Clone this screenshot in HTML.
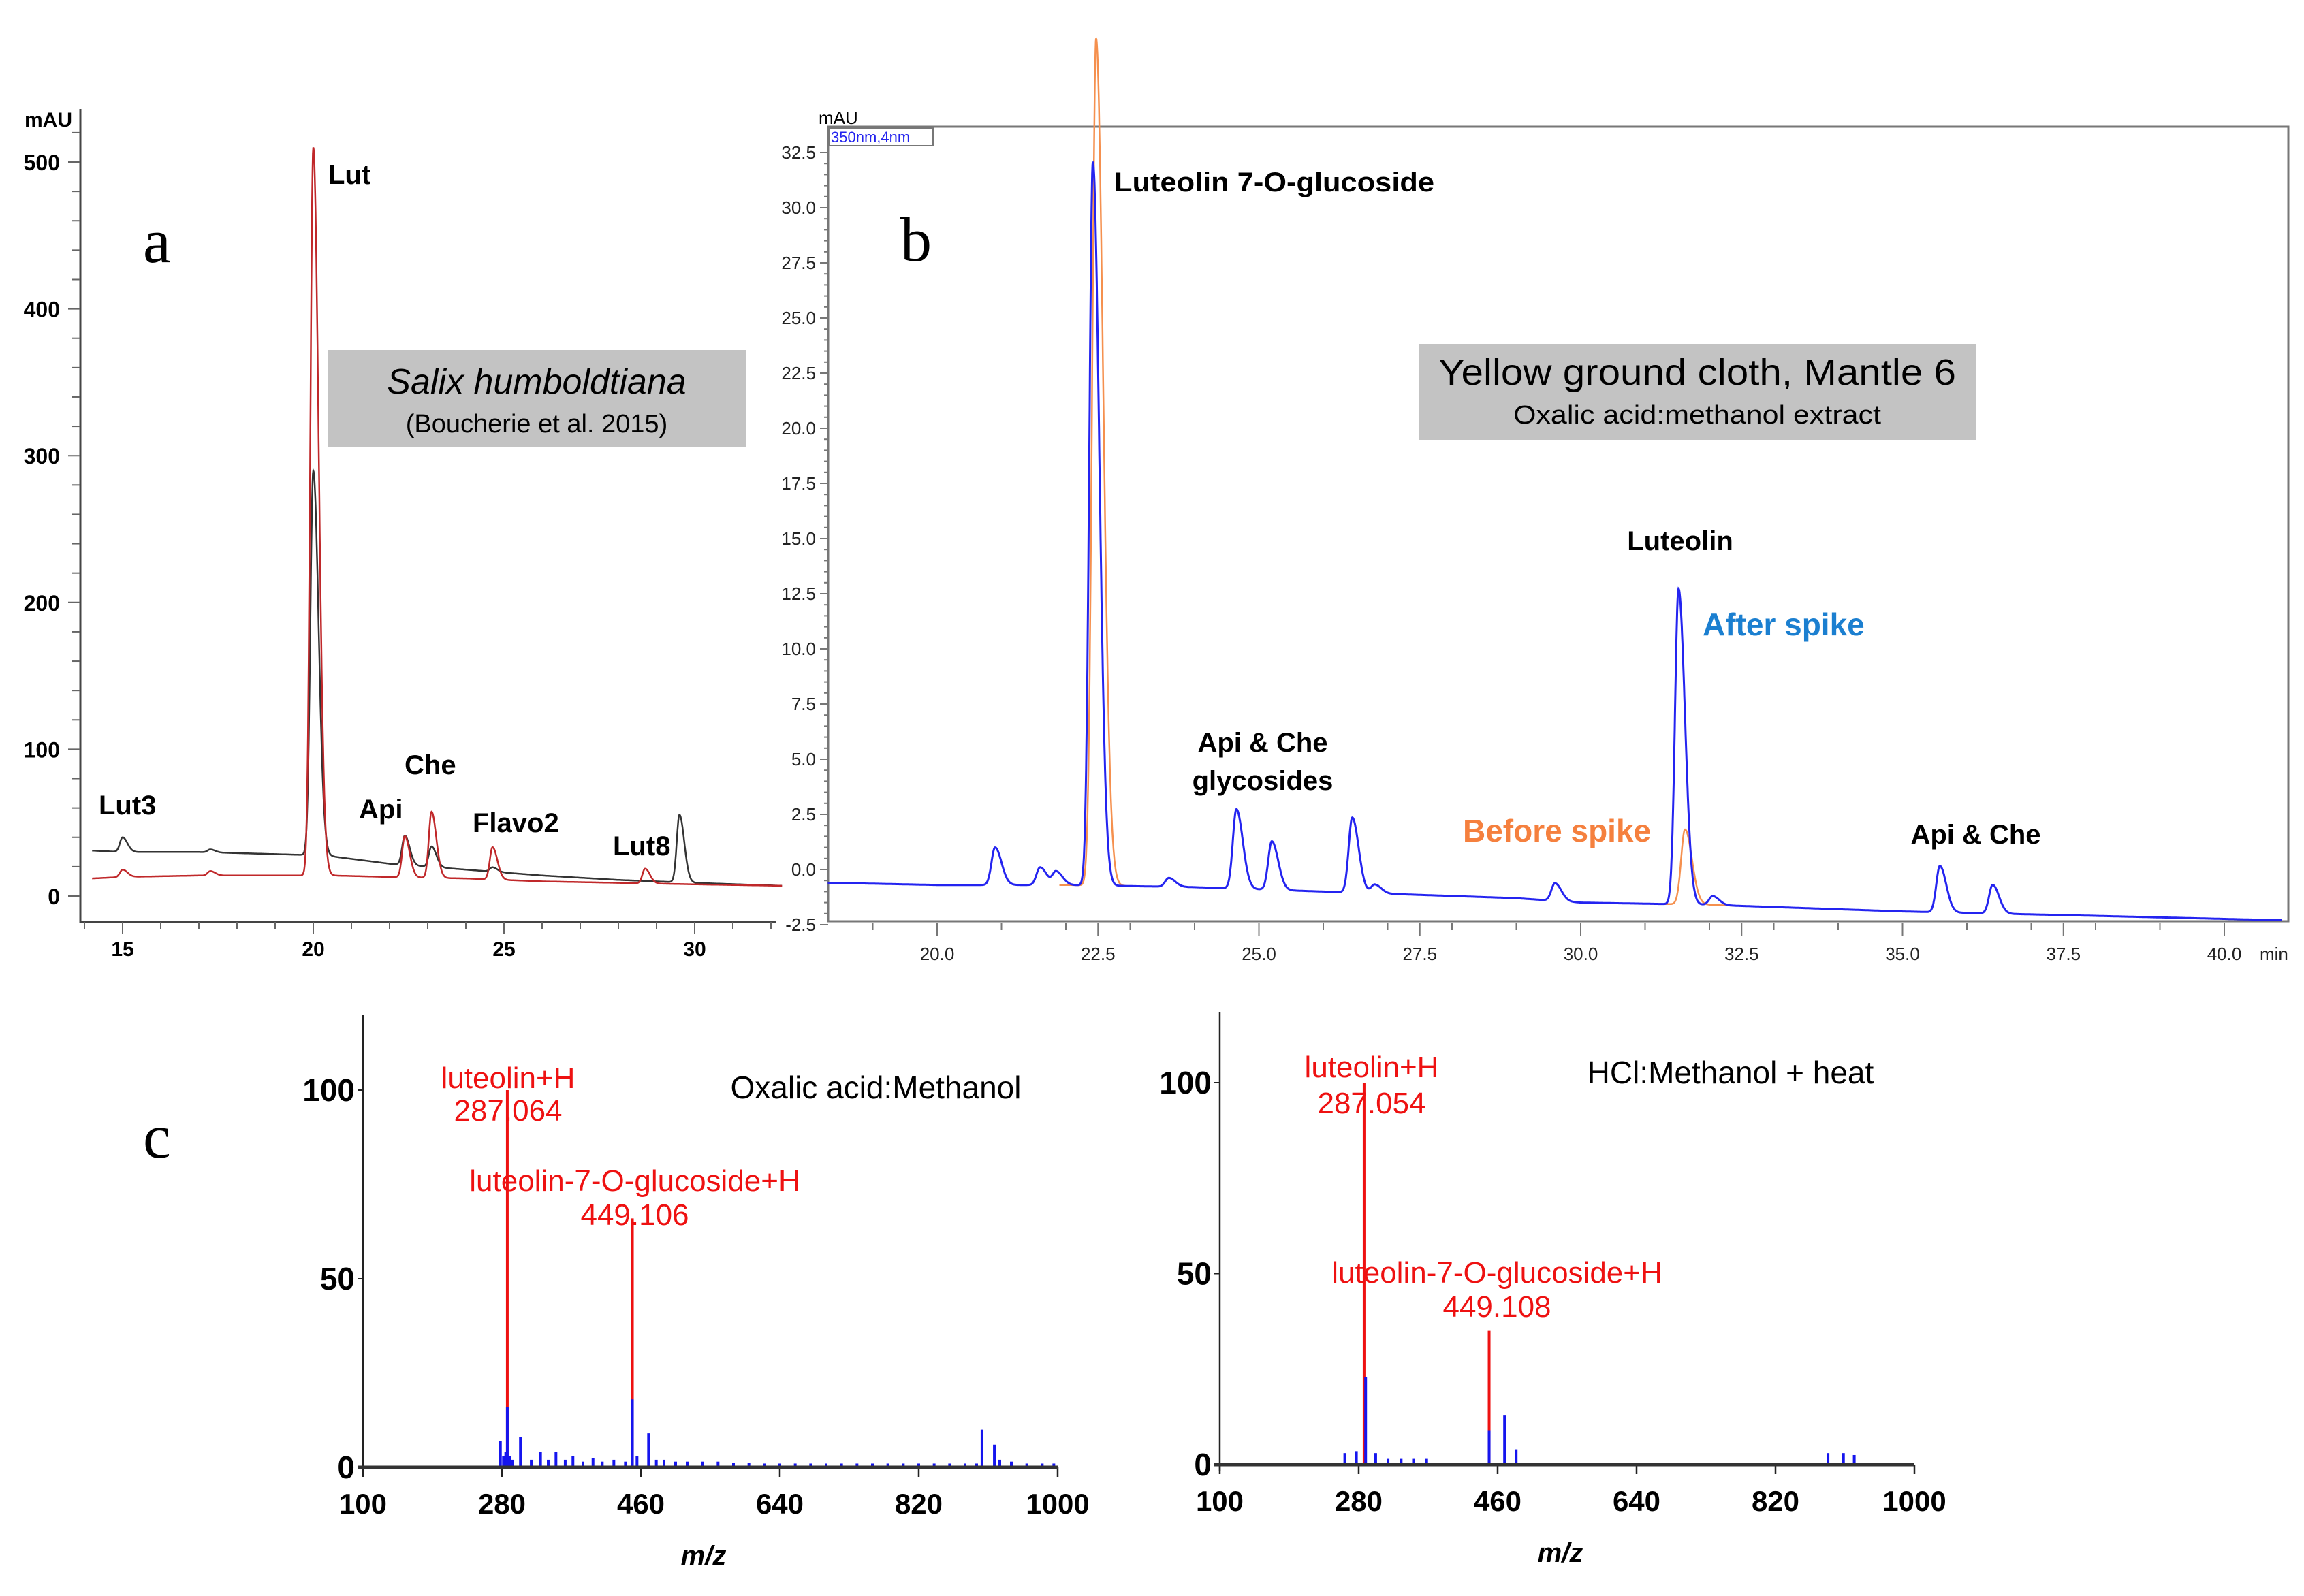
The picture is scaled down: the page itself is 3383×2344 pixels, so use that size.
<!DOCTYPE html>
<html><head><meta charset="utf-8"><style>
html,body{margin:0;padding:0;background:#fff}
svg text{font-family:"Liberation Sans",sans-serif}
</style></head><body>
<svg id="fig" xmlns="http://www.w3.org/2000/svg" width="3383" height="2339" viewBox="0 0 3383 2339">
<rect width="3383" height="2339" fill="#fff"/>
<g id="pa"></g>
<g id="pb"></g>
<g id="pc1"></g>
<g id="pc2"></g>
<g id="labels">
<text x="210" y="385" font-family="Liberation Serif" font-size="92" style="font-family:'Liberation Serif',serif">a</text>
<text x="1322" y="383" font-size="92" style="font-family:'Liberation Serif',serif">b</text>
<text x="210" y="1700" font-size="92" style="font-family:'Liberation Serif',serif">c</text>
<rect x="481" y="514" width="614" height="143" fill="#c3c3c3"/>
<text x="788" y="578" font-size="52" font-style="italic" text-anchor="middle">Salix humboldtiana</text>
<text x="788" y="635" font-size="38" text-anchor="middle">(Boucherie et al. 2015)</text>
<rect x="2083" y="505" width="818" height="141" fill="#c3c3c3"/>
<text x="2492" y="565" font-size="54" text-anchor="middle" textLength="760" lengthAdjust="spacingAndGlyphs">Yellow ground cloth, Mantle 6</text>
<text x="2492" y="622" font-size="38" text-anchor="middle" textLength="540" lengthAdjust="spacingAndGlyphs">Oxalic acid:methanol extract</text>
<g font-weight="bold" font-size="40">
<text x="482" y="270">Lut</text>
<text x="145" y="1196">Lut3</text>
<text x="527" y="1202">Api</text>
<text x="594" y="1137">Che</text>
<text x="694" y="1222">Flavo2</text>
<text x="900" y="1256">Lut8</text>
<text x="1636" y="281" textLength="470" lengthAdjust="spacingAndGlyphs">Luteolin 7-O-glucoside</text>
<text x="2467" y="808" text-anchor="middle">Luteolin</text>
<text x="1854" y="1104" text-anchor="middle">Api &amp; Che</text>
<text x="1854" y="1160" text-anchor="middle">glycosides</text>
<text x="2901" y="1239" text-anchor="middle">Api &amp; Che</text>
</g>
<text x="2500" y="933" font-size="46" font-weight="bold" fill="#1b7fd0">After spike</text>
<text x="2148" y="1236" font-size="46" font-weight="bold" fill="#f5803e">Before spike</text>
<g fill="#ee1111" font-size="44" text-anchor="middle">
<text x="746" y="1598">luteolin+H</text>
<text x="746" y="1646">287.064</text>
<text x="932" y="1749">luteolin-7-O-glucoside+H</text>
<text x="932" y="1799">449.106</text>
<text x="2014" y="1582">luteolin+H</text>
<text x="2014" y="1635">287.054</text>
<text x="2198" y="1884">luteolin-7-O-glucoside+H</text>
<text x="2198" y="1934">449.108</text>
</g>
<text x="1286" y="1613" font-size="46" text-anchor="middle">Oxalic acid:Methanol</text>
<text x="2541" y="1591" font-size="46" text-anchor="middle">HCl:Methanol + heat</text>
</g>
</svg>
<script>
// ---------- Panel a data ----------
const aBaseTimes = [14.2, 15, 17, 19.8, 20.5, 22, 24, 26, 28, 30, 32.3];
const aBlackBase = [31, 30, 30, 28, 27, 22, 18, 14, 11, 9, 7];
const aRedBase = [12, 13, 14, 14, 14, 13, 12, 10, 9, 8, 7];
const aBlackPeakT = [15.0, 20.0, 22.4, 23.1, 24.7, 29.6, 17.3];
const aBlackPeakH = [10, 262, 20, 14, 3, 46, 2];
const aRedPeakT = [15.0, 20.0, 22.4, 23.1, 24.7, 28.7, 17.3];
const aRedPeakH = [5, 496, 28, 45, 22, 10, 3];
const aYTicks = [0, 100, 200, 300, 400, 500];
const aXTicks = [15, 20, 25, 30];
// ---------- Panel b data ----------
const bBaseTimes = [18.3, 20, 22, 24, 25, 27, 29, 30, 32, 35, 38, 40.9];
const bBaseVals = [-0.6, -0.7, -0.7, -0.8, -0.9, -1.1, -1.3, -1.5, -1.6, -1.9, -2.1, -2.3];
const bBluePeakT = [20.9, 21.6, 21.85, 22.42, 23.6, 24.65, 25.2, 26.45, 26.8, 29.6, 31.52, 32.05, 35.58, 36.4];
const bBluePeakH = [1.7, 0.8, 0.6, 32.8, 0.4, 3.6, 2.2, 3.4, 0.4, 0.8, 14.3, 0.4, 2.1, 1.3];
const bOrangePeakT = [22.47, 31.62];
const bOrangePeakH = [38.4, 3.4];
const bYTicks = [-2.5, 0.0, 2.5, 5.0, 7.5, 10.0, 12.5, 15.0, 17.5, 20.0, 22.5, 25.0, 27.5, 30.0, 32.5];
const bXTicks = [20.0, 22.5, 25.0, 27.5, 30.0, 32.5, 35.0, 37.5, 40.0];
// ---------- Panel c data ----------
const msXTicks = [100, 280, 460, 640, 820, 1000];
const msYTicks = [0, 50, 100];
const ms1RedMz = [287, 449];
const ms1RedInt = [100, 66];
const ms1BlueMz = [278, 282, 285, 287, 290, 294, 304, 318, 330, 340, 350, 362, 372, 385, 398, 410, 425, 440, 449, 455, 470, 480, 490, 505, 520, 540, 560, 580, 600, 620, 640, 660, 680, 700, 720, 740, 760, 780, 800, 820, 840, 860, 880, 895, 902, 918, 925, 940, 960, 980, 995];
const ms1BlueInt = [7, 3, 4, 16, 3, 2, 8, 2, 4, 2, 4, 2, 3, 1.5, 2.5, 1.5, 2, 1.5, 18, 3, 9, 2, 2, 1.5, 1.5, 1.5, 1.5, 1.2, 1.2, 1, 1, 1, 1, 1, 1, 1, 1, 1, 1, 1, 1, 1, 1, 1, 10, 6, 2, 1.5, 1, 1, 1];
const ms2RedMz = [287, 449];
const ms2RedInt = [100, 35];
const ms2BlueMz = [262, 277, 289, 302, 318, 335, 351, 368, 449, 469, 484, 888, 908, 922];
const ms2BlueInt = [3, 3.5, 23, 3, 1.5, 1.5, 1.5, 1.5, 9, 13, 4, 3, 3, 2.5];

const NS = "http://www.w3.org/2000/svg";
function mk(parent, tag, attrs) { const e = document.createElementNS(NS, tag); for (const k in attrs) e.setAttribute(k, attrs[k]); parent.appendChild(e); return e; }
function interp(ts, vs, t) { if (t <= ts[0]) return vs[0]; for (let i = 1; i < ts.length; i++) if (t <= ts[i]) { const f = (t - ts[i - 1]) / (ts[i] - ts[i - 1]); return vs[i - 1] + f * (vs[i] - vs[i - 1]); } return vs[vs.length - 1]; }
function signal(t, bt, bv, pt, ph, w) { let v = interp(bt, bv, t); for (let i = 0; i < pt.length; i++) { const s = (t < pt[i] ? w : w * 1.8) * (ph[i] > 100 ? 1.1 : 1); v += ph[i] * Math.exp(-0.5 * Math.pow((t - pt[i]) / s, 2)); } return v; }

// ---------- Panel a ----------
(function () {
  const g = document.getElementById('pa');
  const ax = t => 180 + (t - 15) * 56.0, ay = v => 1316 - v * 2.156;
  const axl = mk(g, 'path', { d: 'M118,160 L118,1354 L1140,1354', stroke: '#444', 'stroke-width': 3, fill: 'none' });
  
  
  const mau = mk(g, 'text', { x: 36, y: 186, 'font-size': 30, 'font-weight': 'bold' }); mau.textContent = 'mAU';
  
  
  for (let v = 0; v <= 520; v += 20) mk(g, 'line', { x1: v % 100 ? 106 : 100, x2: 118, y1: ay(v), y2: ay(v), stroke: '#666', 'stroke-width': 2 });
  aYTicks.forEach(v => { const t = mk(g, 'text', { x: 88, y: ay(v) + 12, 'font-size': 32, 'font-weight': 'bold', 'text-anchor': 'end' }); t.textContent = v;
    
     });
  for (let m = 14; m <= 32; m++) mk(g, 'line', { x1: ax(m), x2: ax(m), y1: 1354, y2: m % 5 ? 1364 : 1372, stroke: '#666', 'stroke-width': 2 });
  aXTicks.forEach(v => { const t = mk(g, 'text', { x: ax(v), y: 1404, 'font-size': 30, 'font-weight': 'bold', 'text-anchor': 'middle' }); t.textContent = v;
    
     });
  function trace(bv, pt, ph, col, name) { let d = ''; for (let t = 14.2; t <= 32.3; t += 0.01) d += (d ? 'L' : 'M') + ax(t).toFixed(1) + ',' + ay(signal(t, aBaseTimes, bv, pt, ph, 0.07)).toFixed(1);
    const p = mk(g, 'path', { d: d, stroke: col, 'stroke-width': 2.5, fill: 'none' });
    
     }
  trace(aBlackBase, aBlackPeakT, aBlackPeakH, '#333', 'panel-a-black-trace');
  trace(aRedBase, aRedPeakT, aRedPeakH, '#c0282a', 'panel-a-red-trace');
})();

// ---------- Panel b ----------
(function () {
  const g = document.getElementById('pb');
  const bx = t => 1376 + (t - 20) * 94.5, by = v => 1277 - v * 32.4;
  const fr = mk(g, 'rect', { x: 1216, y: 186, width: 2144, height: 1167, fill: 'none', stroke: '#777', 'stroke-width': 3 });
  
  
  const mau = mk(g, 'text', { x: 1202, y: 182, 'font-size': 26 }); mau.textContent = 'mAU';
  
  
  const lb = mk(g, 'rect', { x: 1218, y: 188, width: 152, height: 26, fill: '#fff', stroke: '#777', 'stroke-width': 2 });
  
  
  const lt = mk(g, 'text', { x: 1220, y: 209, 'font-size': 22, fill: '#2222ee' }); lt.textContent = '350nm,4nm';
  
  
  for (let v = -2.5; v <= 32.5; v += 0.5) mk(g, 'line', { x1: Math.abs(v % 2.5) < 0.01 ? 1204 : 1210, x2: 1216, y1: by(v), y2: by(v), stroke: '#777', 'stroke-width': 2 });
  bYTicks.forEach(v => { const t = mk(g, 'text', { x: 1198, y: by(v) + 9, 'font-size': 26, 'text-anchor': 'end', fill: '#222' }); t.textContent = v.toFixed(1);
    
     });
  for (let m = 18.5; m <= 40.9; m += 0.5) { if (Math.abs((m * 2) % 1) > 0.01) continue; const maj = Math.abs(m % 2.5) < 0.01; if (!maj && Math.abs(m % 1) > 0.01) continue; mk(g, 'line', { x1: bx(m), x2: bx(m), y1: 1356, y2: maj ? 1374 : 1366, stroke: '#777', 'stroke-width': 2 }); }
  bXTicks.forEach(v => { const t = mk(g, 'text', { x: bx(v), y: 1410, 'font-size': 26, 'text-anchor': 'middle', fill: '#222' }); t.textContent = v.toFixed(1);
    
     });
  const mn = mk(g, 'text', { x: 3318, y: 1410, 'font-size': 26, fill: '#222' }); mn.textContent = 'min';
  
  
  // orange
  let d = ''; [[21.9, 23.4], [30.9, 32.6]].forEach(r => { let first = true; for (let t = r[0]; t <= r[1]; t += 0.005) { d += (first ? 'M' : 'L') + bx(t).toFixed(1) + ',' + by(signal(t, bBaseTimes, bBaseVals, bOrangePeakT, bOrangePeakH, 0.06)).toFixed(1); first = false; } });
  const po = mk(g, 'path', { d: d, stroke: '#f5904e', 'stroke-width': 2.5, fill: 'none' });
  
  
  let db = ''; for (let t = 18.3; t <= 40.9; t += 0.005) db += (db ? 'L' : 'M') + bx(t).toFixed(1) + ',' + by(signal(t, bBaseTimes, bBaseVals, bBluePeakT, bBluePeakH, 0.055)).toFixed(1);
  const pb = mk(g, 'path', { d: db, stroke: '#2424f0', 'stroke-width': 3, fill: 'none' });
  
  
})();

// ---------- Panel c ----------
function ms(gid, x0, x1, y0, y100, redMz, redInt, blueMz, blueInt, pfx) {
  const g = document.getElementById(gid);
  const mx = m => x0 + (m - 100) / 900 * (x1 - x0), my = v => y0 + (y100 - y0) * v / 100;
  const ya = mk(g, 'line', { x1: x0, x2: x0, y1: y0 + 10, y2: y0 - 665, stroke: '#222', 'stroke-width': 2.5 });
  
  
  msYTicks.forEach(v => { mk(g, 'line', { x1: x0 - 8, x2: x0, y1: my(v), y2: my(v), stroke: '#222', 'stroke-width': 2 });
    const t = mk(g, 'text', { x: x0 - 12, y: my(v) + 16, 'font-size': 46, 'font-weight': 'bold', 'text-anchor': 'end' }); t.textContent = v;
    
     });
  msXTicks.forEach(v => { mk(g, 'line', { x1: mx(v), x2: mx(v), y1: y0, y2: y0 + 14, stroke: '#222', 'stroke-width': 2.5 });
    const t = mk(g, 'text', { x: mx(v), y: y0 + 68, 'font-size': 42, 'font-weight': 'bold', 'text-anchor': 'middle' }); t.textContent = v;
    
     });
  const xt = mk(g, 'text', { x: (x0 + x1) / 2 - 10, y: y0 + 143, 'font-size': 40, 'font-weight': 'bold', 'font-style': 'italic', 'text-anchor': 'middle' }); xt.textContent = 'm/z';
  
  
  redMz.forEach((m, i) => { const l = mk(g, 'line', { x1: mx(m), x2: mx(m), y1: y0, y2: my(redInt[i]), stroke: '#ee1111', 'stroke-width': 4 });
    
     });
  blueMz.forEach((m, i) => { const l = mk(g, 'line', { x1: mx(m), x2: mx(m), y1: y0, y2: my(blueInt[i]), stroke: '#1515ee', 'stroke-width': 4 });
    
     });
  const xa = mk(g, 'line', { x1: x0 - 8, x2: x1, y1: y0, y2: y0, stroke: '#333', 'stroke-width': 5 });
  
  
}
ms('pc1', 533, 1553, 2155, 1601, ms1RedMz, ms1RedInt, ms1BlueMz, ms1BlueInt, 'ms1');
ms('pc2', 1791, 2811, 2151, 1590, ms2RedMz, ms2RedInt, ms2BlueMz, ms2BlueInt, 'ms2');
</script>
</body></html>
